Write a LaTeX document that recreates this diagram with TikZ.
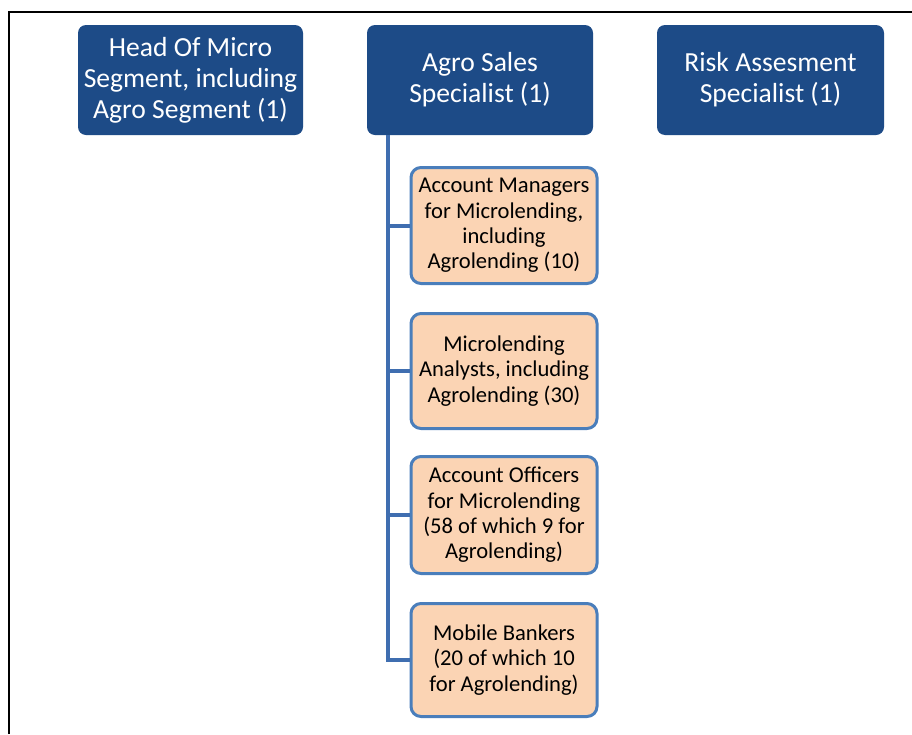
\documentclass[tikz,border=0pt]{standalone}
\usepackage{fontspec}
\setmainfont{Carlito}
\definecolor{darkbox}{HTML}{1D4B87}
\definecolor{peach}{HTML}{FBD4B4}
\definecolor{edgeblue}{HTML}{4A7EBB}
\definecolor{linkblue}{HTML}{3F6EB0}
\begin{document}
\begin{tikzpicture}[x=1pt,y=-1pt,
  topbox/.style={draw=none,fill=darkbox,rounded corners=8pt,text=white,
    minimum height=110pt,align=center,inner sep=0pt,
    font=\fontsize{27.6}{31}\selectfont},
  subbox/.style={draw=edgeblue,line width=3pt,fill=peach,rounded corners=10pt,
    text=black,minimum width=186pt,align=center,inner sep=0pt,
    font=\fontsize{22.6}{25.3}\selectfont},
  link/.style={draw=linkblue,line width=4pt}]
\useasboundingbox (0,0) rectangle (912,734);
\fill[white] (0,0) rectangle (912,734);
\draw[line width=2pt] (9,734) -- (9,12) -- (912,12);

\node[topbox,minimum width=225pt] (head) at (190.5,80) {Head Of Micro\\Segment, including\\Agro Segment (1)};
\node[topbox,minimum width=226pt] (agro) at (480,80) {Agro Sales\\Specialist (1)};
\node[topbox,minimum width=227pt] (risk) at (770.5,80) {Risk Assesment\\Specialist (1)};

\node[subbox,minimum height=116pt] (am) at (504,225.5) {Account Managers\\for Microlending,\\including\\Agrolending (10)};
\node[subbox,minimum height=115pt] (ma) at (504,371) {Microlending\\Analysts, including\\Agrolending (30)};
\node[subbox,minimum height=117pt] (ao) at (504,515) {Account Officers\\for Microlending\\(58 of which 9 for\\Agrolending)};
\node[subbox,minimum height=113pt] (mb) at (504,660) {Mobile Bankers\\(20 of which 10\\for Agrolending)};

\coordinate (t) at (388,135);
\draw[link] (t) |- (mb.west);
\draw[link] (t |- am.west) -- (am.west);
\draw[link] (t |- ma.west) -- (ma.west);
\draw[link] (t |- ao.west) -- (ao.west);
\end{tikzpicture}
\end{document}
